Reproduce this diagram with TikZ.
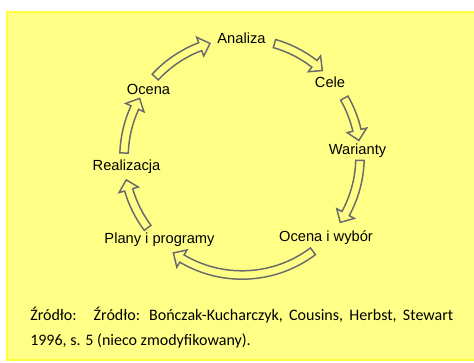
\documentclass[tikz,border=0pt]{standalone}
\usepackage{fontspec}
\setmainfont{Liberation Sans}
\newfontfamily\srcfont{Carlito}
\usetikzlibrary{calc}
\definecolor{boxfill}{HTML}{FFFF88}
\definecolor{boxline}{HTML}{FFFF40}
\definecolor{arrgray}{HTML}{6A6A6A}
% promienie strzalek (os, trzon, grot) i dlugosc grotu w stopniach
\newcommand{\arrmid}{118}
\newcommand{\arrout}{122.2}
\newcommand{\arrin}{113.8}
\newcommand{\arrhout}{128}
\newcommand{\arrhin}{108}
\newcommand{\arrhead}{5}
\tikzset{
  cyclelbl/.style={font=\fontsize{11}{13}\selectfont, inner sep=1pt, anchor=base},
  cyclearr/.style={draw=arrgray, line width=1.1pt, line join=miter},
  srcline/.style={font=\srcfont\fontsize{12}{18}\selectfont, inner sep=0pt, anchor=base west},
}
% pusta strzalka po okregu od wezla #1 do wezla #2 (odstepy #3, #4 w stopniach)
\newcommand{\cyclearrow}[4]{%
  \draw[cyclearr] let \p1=($(#1)-(cen)$), \p2=($(#2)-(cen)$),
      \n1={atan2(\y1,\x1)}, \n2={atan2(\y2,\x2)},
      \n3={\n1-#3}, \n4={\n1-mod(\n1-\n2+720,360)+#4}, \n5={\n4+\arrhead}
    in ($(cen)+(\n3:\arrout)$) arc[start angle=\n3, end angle=\n5, radius=\arrout]
    -- ($(cen)+(\n5:\arrhout)$) -- ($(cen)+(\n4:\arrmid)$)
    -- ($(cen)+(\n5:\arrhin)$) -- ($(cen)+(\n5:\arrin)$)
    arc[start angle=\n5, end angle=\n3, radius=\arrin] -- cycle;}

\begin{document}
\begin{tikzpicture}[x=0.75pt, y=0.75pt]
  \useasboundingbox (0,0) rectangle (474,362);
  % Tlo
  \draw[boxline, line width=1.5pt, fill=boxfill] (7,2.5) rectangle (480,350);
  \coordinate (cen) at (242,205);
  % Etapy cyklu
  \node[cyclelbl] (analiza) at (241.5,319) {Analiza};
  \node[cyclelbl] (cele) at (330,275) {Cele};
  \node[cyclelbl] (warianty) at (357.5,208) {Warianty};
  \node[cyclelbl] (wybor) at (326,121) {Ocena i wybór};
  \node[cyclelbl] (plany) at (159.5,119) {Plany i programy};
  \node[cyclelbl] (realizacja) at (126.5,192) {Realizacja};
  \node[cyclelbl] (ocena) at (148.5,268) {Ocena};
  % Strzalki
  \cyclearrow{ocena}{analiza}{6.6}{15.5}
  \cyclearrow{analiza}{cele}{16.2}{6.6}
  \cyclearrow{cele}{warianty}{10.6}{4.7}
  \cyclearrow{warianty}{wybor}{5}{10}
  \cyclearrow{wybor}{plany}{9.4}{9.5}
  \cyclearrow{plany}{realizacja}{8}{6.6}
  \cyclearrow{realizacja}{ocena}{6.5}{6.3}
  % Zrodlo
  \node[srcline] (src1) at (30,42)
    {\makebox[317.25pt][s]{Źródło:\hspace{0.5em} Źródło: Bończak-Kucharczyk, Cousins, Herbst, Stewart}};
  \node[srcline] (src2) at (30,17) {1996, s. 5 (nieco zmodyfikowany).};
\end{tikzpicture}
\end{document}
